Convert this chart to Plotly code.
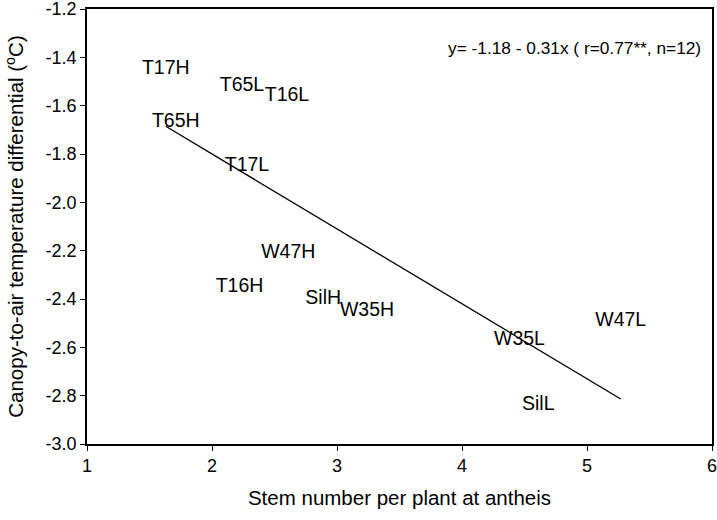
import plotly.graph_objects as go

labels = ["T17H", "T65L", "T16L", "T65H", "T17L", "W47H", "T16H", "SilH", "W35H", "W35L", "SilL", "W47L"]
stems = [1.63, 2.24, 2.60, 1.71, 2.28, 2.61, 2.22, 2.89, 3.24, 4.46, 4.61, 5.27]
dtemp = [-1.45, -1.52, -1.56, -1.67, -1.85, -2.21, -2.35, -2.40, -2.45, -2.57, -2.84, -2.49]

x_ticks = [1, 2, 3, 4, 5, 6]
y_ticks = [-3.0, -2.8, -2.6, -2.4, -2.2, -2.0, -1.8, -1.6, -1.4, -1.2]

intercept = -1.18
slope = -0.31
x_fit = [min(stems), max(stems)]
y_fit = [intercept + slope * v for v in x_fit]

font = "Liberation Sans, Arial, sans-serif"

fig = go.Figure()
fig.add_trace(go.Scatter(x=x_fit, y=y_fit, mode="lines",
                         line=dict(color="black", width=1.3), showlegend=False, hoverinfo="skip"))
fig.add_trace(go.Scatter(x=stems, y=dtemp, mode="text", text=labels,
                         textposition="middle center",
                         textfont=dict(family=font, size=19.5, color="black"), showlegend=False))

fig.add_annotation(x=0.985, y=0.91, xref="paper", yref="paper", xanchor="right", yanchor="middle",
                   text="y= -1.18 - 0.31x ( r=0.77**, n=12)", showarrow=False,
                   font=dict(family=font, size=17.3, color="black"))

axis_common = dict(showline=True, linecolor="black", linewidth=1.5, mirror=True,
                   ticks="outside", ticklen=5, tickwidth=1.3, tickcolor="black",
                   showgrid=False, zeroline=False, automargin=False,
                   ticklabeloverflow="allow",
                   tickfont=dict(family=font, size=18, color="black"))

fig.update_xaxes(range=[1, 6], tickvals=x_ticks, ticktext=[str(v) for v in x_ticks],
                 title=dict(text="Stem number per plant at antheis",
                            font=dict(family=font, size=20.5, color="black"), standoff=15),
                 **axis_common)
fig.update_yaxes(range=[-3.0, -1.2], tickvals=y_ticks, ticktext=[f"{v:.1f}" for v in y_ticks],
                 title=dict(text="Canopy-to-air temperature differential (<sup>o</sup>C)",
                            font=dict(family=font, size=20.5, color="black"), standoff=16),
                 **axis_common)

fig.update_layout(width=717, height=520, margin=dict(l=87, r=5, t=9, b=76),
                  plot_bgcolor="white", paper_bgcolor="white", showlegend=False)

fig.write_html("out.html", config={"displayModeBar": False},
               post_script="document.body.style.margin='0';document.body.style.overflow='hidden';")
